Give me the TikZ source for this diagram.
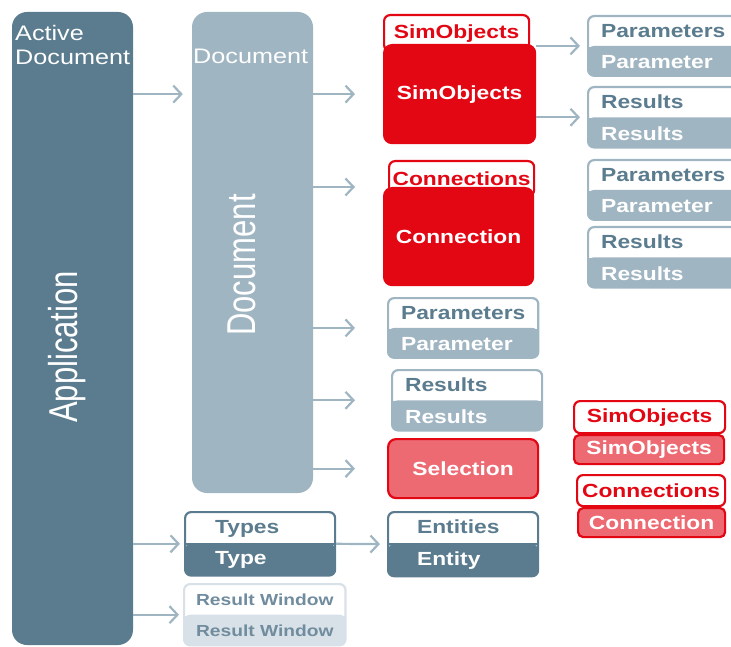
\documentclass[tikz,border=0pt]{standalone}
\usepackage{fontspec}
\setmainfont{Liberation Sans}
\newfontfamily\wide[FakeStretch=1.2]{Liberation Sans}
\usetikzlibrary{arrows.meta,shapes.multipart,positioning}
\definecolor{slate}{RGB}{91,124,143}
\definecolor{haze}{RGB}{160,181,194}
\definecolor{simred}{RGB}{227,6,19}
\definecolor{rose}{RGB}{237,106,115}
\definecolor{mist}{RGB}{216,225,231}
\definecolor{misttext}{RGB}{112,140,158}
\tikzset{
  link/.style={draw=haze, line width=2.2pt, -{Straight Barb[length=8pt,width=17pt]}},
  bar/.style={rounded corners=15pt, minimum width=121, inner sep=0pt},
  lbl/.style={text=white, font=\wide\fontsize{21}{24}\selectfont, align=left, inner sep=0pt},
  vlbl/.style={text=white, rotate=90, anchor=base, inner sep=0pt, font=\fontsize{31}{31}\selectfont},
  boxfont/.style={font=\wide\bfseries\fontsize{#1}{#1}\selectfont},
  duo/.style={rectangle split, rectangle split parts=2, rectangle split part align={left,left},
    fill=white, draw=#1, line width=2.2pt, rounded corners=6pt,
    path picture={\fill[#1] (path picture bounding box.west) rectangle (path picture bounding box.south east);},
    minimum width=150, inner xsep=13pt, inner ysep=6pt, text height=14pt, text depth=4pt,
    anchor=north west, text=white, boxfont=19},
  redtop/.style={draw=simred, fill=white, line width=2.2pt, rounded corners=6pt, text=simred,
    anchor=north west, inner sep=0pt, boxfont=19},
  redbox/.style={draw=simred, fill=#1, line width=2.2pt, rounded corners=8pt, text=white,
    anchor=north west, inner sep=0pt, boxfont=19}
}
\begin{document}
\begin{tikzpicture}[x=1pt,y=-1pt]
\useasboundingbox (0,0) rectangle (731,647);
\clip (0,0) rectangle (731,647);
\node[bar, fill=slate, minimum height=633] (app) at (72.5,328.5) {};
\node[bar, fill=haze, minimum height=481] (doc) at (252.5,252.5) {};
\node[lbl, anchor=north west] (appttl) at (15,25) {Active\\Document};
\node[lbl, anchor=north west] (docttl) at (193,49) {Document};
\node[vlbl] (applbl) at (77,347) {\scalebox{1}[1.3]{Application}};
\node[vlbl] (doclbl) at (255,265) {\scalebox{1}[1.3]{Document}};

\node[redtop, minimum width=145, minimum height=36] (simh) at (383,14) {SimObjects};
\node[redbox=simred, minimum width=151, minimum height=98] (simb) at (383,44) {SimObjects};
\node[redtop, minimum width=145, minimum height=35] (conh) at (388,160) {Connections};
\node[redbox=simred, minimum width=149, minimum height=97] (conb) at (383,187) {Connection};

\node[duo=haze] (par1) at (587,15) {\textcolor{slate}{Parameters}\nodepart{two}Parameter};
\node[duo=haze] (res1) at (587,86) {\textcolor{slate}{Results}\nodepart{two}Results};
\node[duo=haze] (par2) at (587,159) {\textcolor{slate}{Parameters}\nodepart{two}Parameter};
\node[duo=haze] (res2) at (587,226) {\textcolor{slate}{Results}\nodepart{two}Results};
\node[duo=haze] (par3) at (387,297) {\textcolor{slate}{Parameters}\nodepart{two}Parameter};
\node[duo=haze] (res3) at (391,369) {\textcolor{slate}{Results}\nodepart{two}Results};
\node[redbox=rose, minimum width=150, minimum height=59] (sel) at (387,438) {Selection};

\node[redtop, minimum width=151, minimum height=32] (sim2h) at (573,400) {SimObjects};
\node[redbox=rose, minimum width=150, minimum height=29, rounded corners=5pt] (sim2b) at (573,434) {SimObjects};
\node[redtop, minimum width=148, minimum height=31] (con2h) at (576,474) {Connections};
\node[redbox=rose, minimum width=147, minimum height=29, rounded corners=5pt] (con2b) at (577,507) {Connection};

\node[duo=slate, inner xsep=30pt] (types) at (184,511) {\textcolor{slate}{Types}\nodepart{two}Type};
\node[duo=slate, inner xsep=29pt] (ents) at (387,511) {\textcolor{slate}{Entities}\nodepart{two}Entity};
\node[duo=mist, inner xsep=12pt, boxfont=16, text=misttext, text height=13pt, text depth=4pt, inner ysep=7pt] (rwin) at (183,583) {Result Window\nodepart{two}Result Window};

\draw[link, shorten >=9pt] (app.east |- simb.west) -- (doc.west |- simb.west);
\draw[link, shorten >=4pt] (app.east |- types.west) -- (types.west);
\draw[link, shorten >=4pt] (app.east |- rwin.west) -- (rwin.west);
\draw[link, shorten >=28pt] (doc.east |- simb.west) -- (simb.west);
\draw[link, shorten >=28pt] (doc.east |- conb.north) -- (conb.north west);
\draw[link, shorten >=32pt] (doc.east |- par3.west) -- (par3.west);
\draw[link, shorten >=36pt] (doc.east |- res3.west) -- (res3.west);
\draw[link, shorten >=32pt] (doc.east |- sel.west) -- (sel.west);
\draw[link, shorten >=7pt] (simb.east |- par1.west) -- (par1.west);
\draw[link, shorten >=7pt] (simb.east |- res1.west) -- (res1.west);
\draw[link, shorten >=7pt] (types.east) -- (ents.west);
\end{tikzpicture}
\end{document}
